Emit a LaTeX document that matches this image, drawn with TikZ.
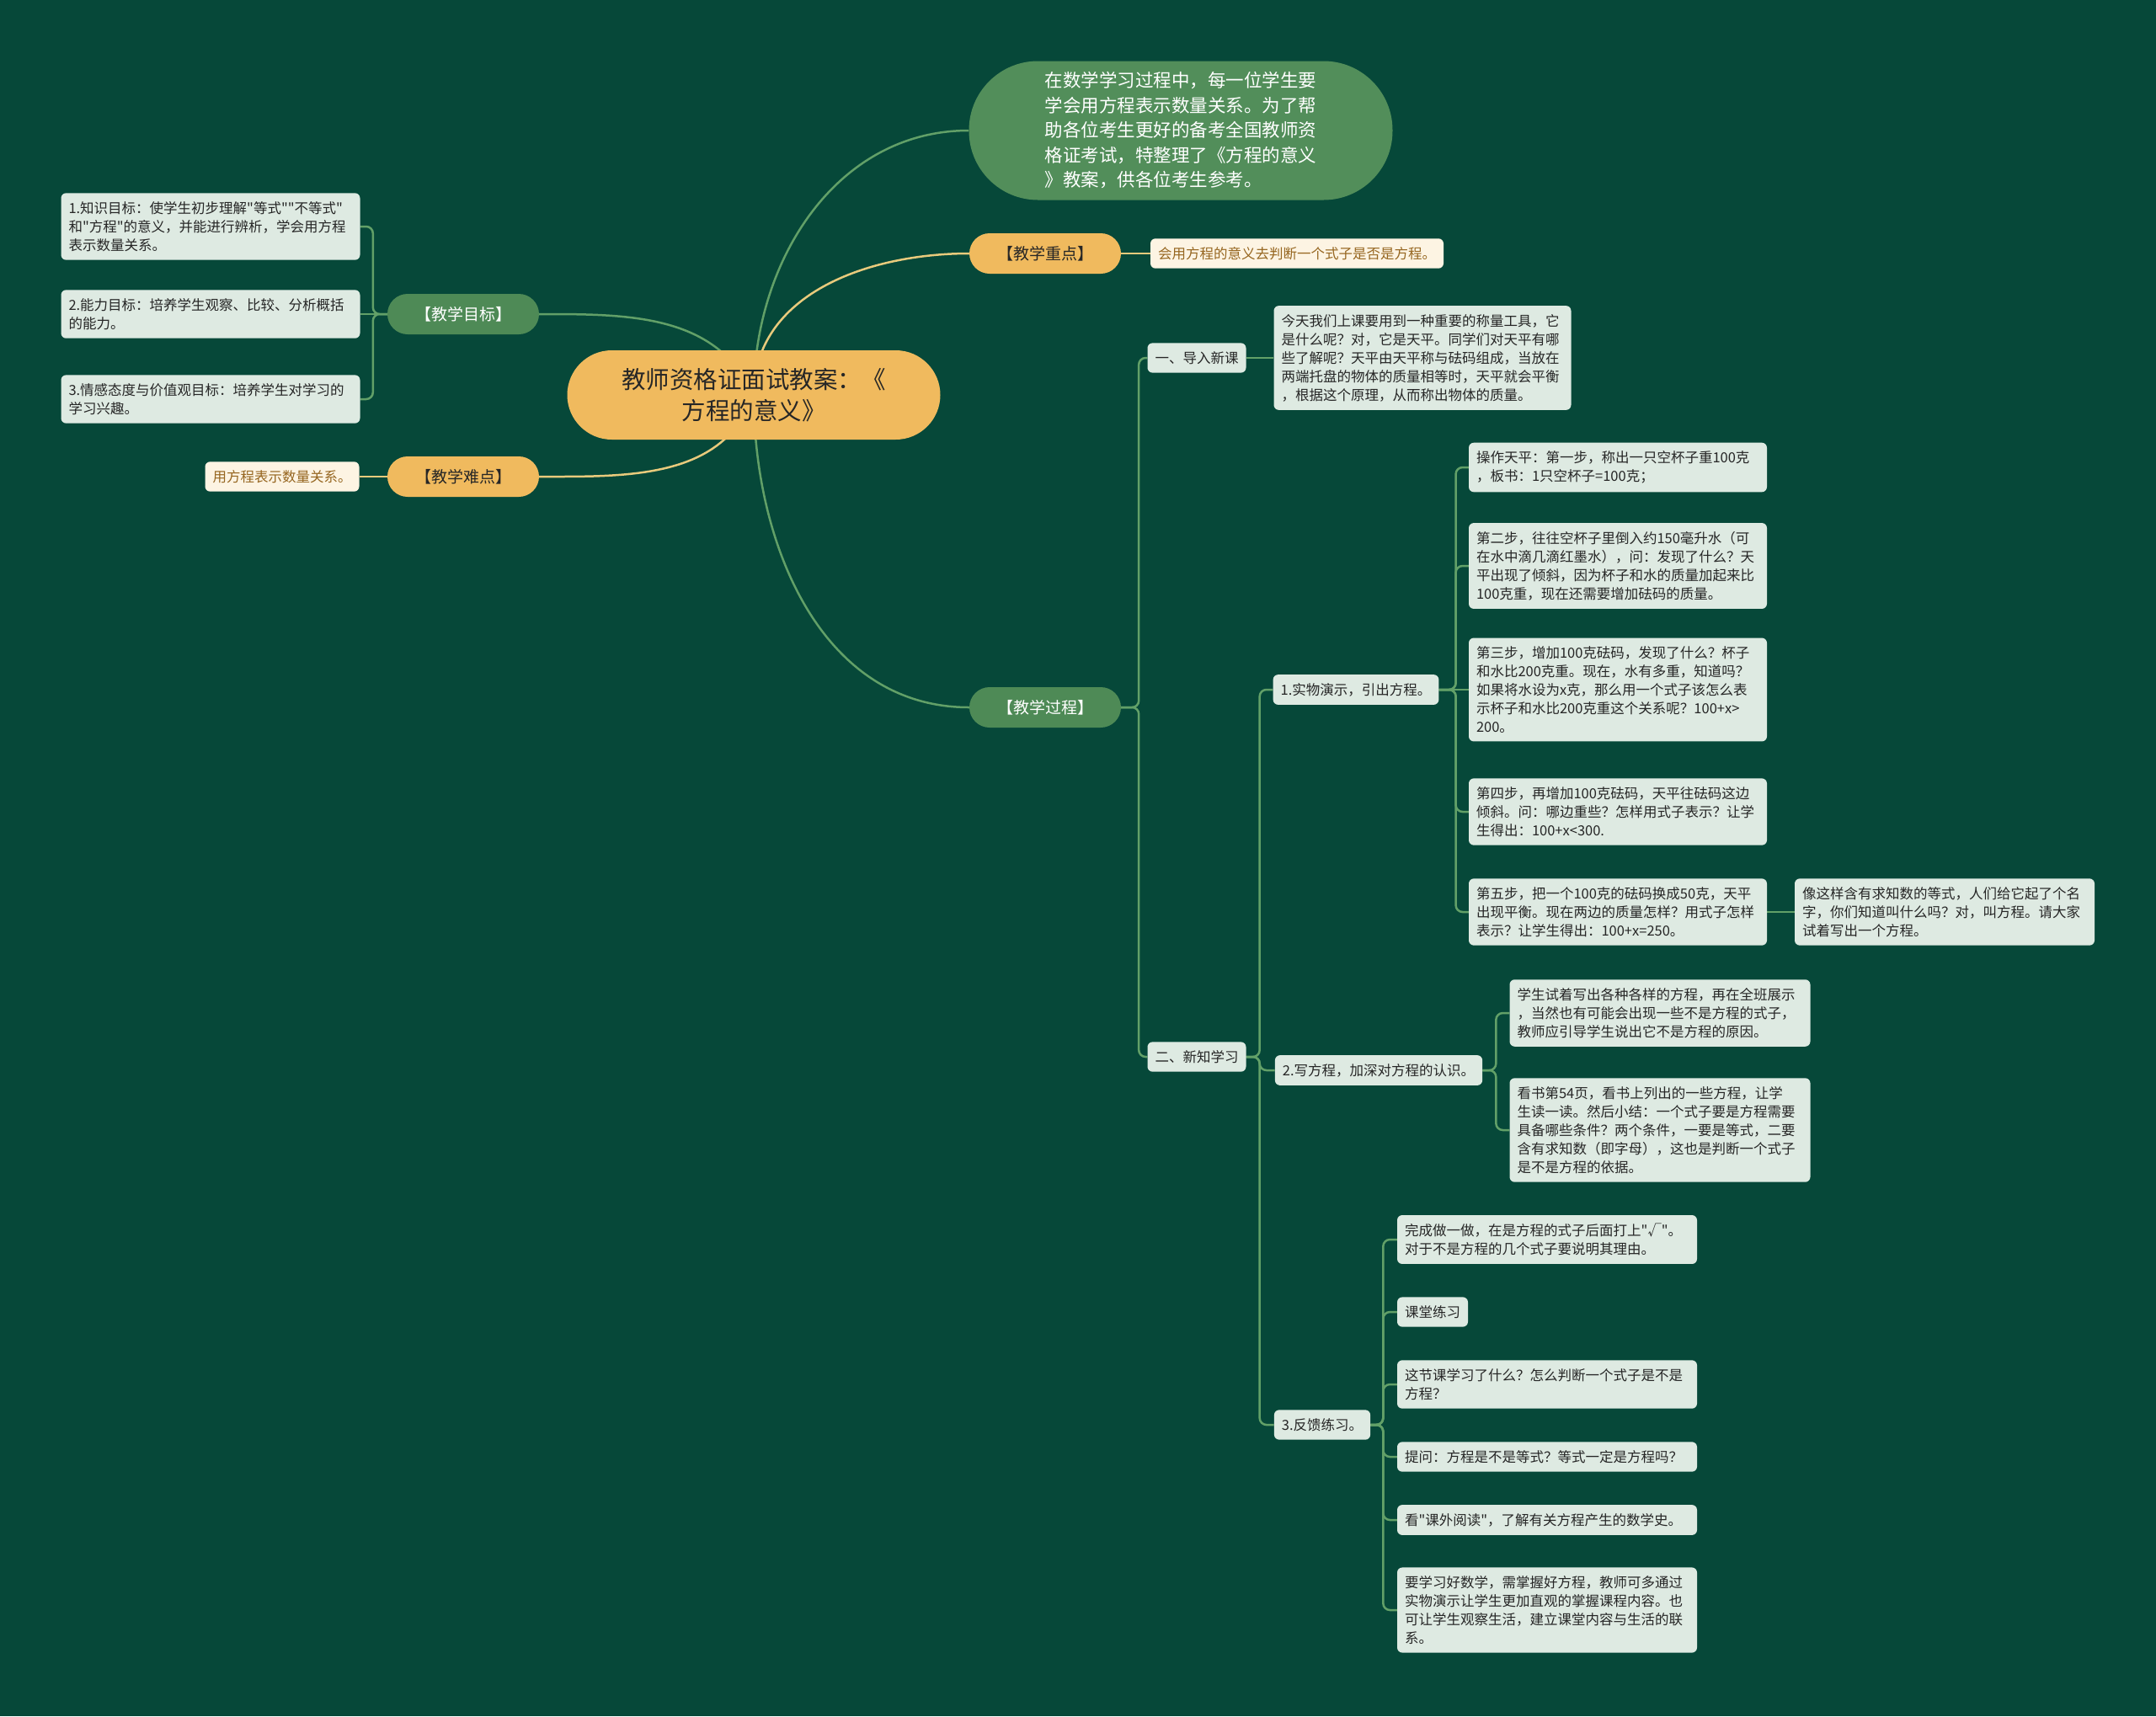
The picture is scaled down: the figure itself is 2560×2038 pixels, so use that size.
\documentclass[tikz,border=0pt]{standalone}
\usepackage{fontspec}
\setmainfont{Noto Sans CJK SC}[Ligatures=TeXOff]
\usetikzlibrary{backgrounds}
\definecolor{boardbg}{RGB}{6,72,57}
\definecolor{rootfill}{RGB}{240,186,94}
\definecolor{introfill}{RGB}{82,142,90}
\definecolor{branchfill}{RGB}{78,138,86}
\definecolor{leaffill}{RGB}{222,234,226}
\definecolor{leafink}{RGB}{38,38,38}
\definecolor{creamfill}{RGB}{253,244,227}
\definecolor{creamink}{RGB}{150,102,32}
\definecolor{greenlink}{RGB}{98,160,104}
\definecolor{yellowlink}{RGB}{232,202,124}

\begin{document}
\begin{tikzpicture}[x=1pt,y=-1pt,
  rootbox/.style={fill=rootfill,text=leafink,rounded corners=53pt,minimum width=443pt,minimum height=106pt,align=center,font=\fontsize{28.5}{37.5}\selectfont},
  introbox/.style={fill=introfill,text=white,rounded corners=82pt,minimum width=503pt,minimum height=165pt,align=left,font=\fontsize{21.5}{29.5}\selectfont},
  gtopic/.style={fill=branchfill,text=white,rounded corners=24pt,minimum width=180pt,minimum height=48pt,inner sep=0pt,font=\fontsize{19}{24}\selectfont},
  otopic/.style={gtopic,fill=rootfill,text=leafink},
  leaf/.style={fill=leaffill,text=leafink,rounded corners=6pt,inner xsep=9pt,inner ysep=10pt,align=left,font=\fontsize{16.5}{22}\selectfont},
  oleaf/.style={leaf,fill=creamfill,text=creamink},
  glink/.style={draw=greenlink,line width=2.5pt,rounded corners=8pt},
  ylink/.style={draw=yellowlink,line width=2.5pt}]
\useasboundingbox (0,0) rectangle (2560,2038);
\node[rootbox] (root) at (895,469) {教师资格证面试教案：《\\方程的意义》};
\node[introbox] (intro) at (1402,155) {在数学学习过程中，每一位学生要\\学会用方程表示数量关系。为了帮\\助各位考生更好的备考全国教师资\\格证考试，特整理了《方程的意义\\》教案，供各位考生参考。};
\node[otopic] (key) at (1241,301) {【教学重点】};
\node[oleaf] (keyleaf) at (1540,301) {会用方程的意义去判断一个式子是否是方程。};
\node[gtopic] (goal) at (550,373) {【教学目标】};
\node[leaf,text width=337pt] (goal1) at (250,269) {1.知识目标：使学生初步理解"等式""不等式"\\和"方程"的意义，并能进行辨析，学会用方程\\表示数量关系。};
\node[leaf,text width=337pt] (goal2) at (250,373) {2.能力目标：培养学生观察、比较、分析概括\\的能力。};
\node[leaf,text width=337pt] (goal3) at (250,474) {3.情感态度与价值观目标：培养学生对学习的\\学习兴趣。};
\node[otopic] (diff) at (550,566) {【教学难点】};
\node[oleaf] (diffleaf) at (335,566) {用方程表示数量关系。};
\node[gtopic] (proc) at (1241,840) {【教学过程】};
\node[leaf] (intro1) at (1421,425) {一、导入新课};
\node[leaf,text width=335pt] (intro1leaf) at (1689,425) {今天我们上课要用到一种重要的称量工具，它\\是什么呢？对，它是天平。同学们对天平有哪\\些了解呢？天平由天平称与砝码组成，当放在\\两端托盘的物体的质量相等时，天平就会平衡\\，根据这个原理，从而称出物体的质量。};
\node[leaf] (new) at (1421,1255) {二、新知学习};
\node[leaf] (demo) at (1610,819) {1.实物演示，引出方程。};
\node[leaf,text width=336pt] (s1) at (1921,555) {操作天平：第一步，称出一只空杯子重100克\\，板书：1只空杯子=100克；};
\node[leaf,text width=336pt] (s2) at (1921,672) {第二步，往往空杯子里倒入约150毫升水（可\\在水中滴几滴红墨水），问：发现了什么？天\\平出现了倾斜，因为杯子和水的质量加起来比\\100克重，现在还需要增加砝码的质量。};
\node[leaf,text width=336pt] (s3) at (1921,819) {第三步，增加100克砝码，发现了什么？杯子\\和水比200克重。现在，水有多重，知道吗？\\如果将水设为x克，那么用一个式子该怎么表\\示杯子和水比200克重这个关系呢？100+x>\\200。};
\node[leaf,text width=336pt] (s4) at (1921,964) {第四步，再增加100克砝码，天平往砝码这边\\倾斜。问：哪边重些？怎样用式子表示？让学\\生得出：100+x<300.};
\node[leaf,text width=336pt] (s5) at (1921,1083) {第五步，把一个100克的砝码换成50克，天平\\出现平衡。现在两边的质量怎样？用式子怎样\\表示？让学生得出：100+x=250。};
\node[leaf,text width=338pt] (s5leaf) at (2309,1083) {像这样含有求知数的等式，人们给它起了个名\\字，你们知道叫什么吗？对，叫方程。请大家\\试着写出一个方程。};
\node[leaf] (write) at (1637,1271) {2.写方程，加深对方程的认识。};
\node[leaf,text width=339pt] (wa) at (1971,1203) {学生试着写出各种各样的方程，再在全班展示\\，当然也有可能会出现一些不是方程的式子，\\教师应引导学生说出它不是方程的原因。};
\node[leaf,text width=339pt] (wb) at (1971,1342) {看书第54页，看书上列出的一些方程，让学\\生读一读。然后小结：一个式子要是方程需要\\具备哪些条件？两个条件，一要是等式，二要\\含有求知数（即字母），这也是判断一个式子\\是不是方程的依据。};
\node[leaf] (fb) at (1570,1692) {3.反馈练习。};
\node[leaf,text width=338pt] (f1) at (1837,1472) {完成做一做，在是方程的式子后面打上"√"。\\对于不是方程的几个式子要说明其理由。};
\node[leaf] (f2) at (1701,1558) {课堂练习};
\node[leaf,text width=338pt] (f3) at (1837,1644) {这节课学习了什么？怎么判断一个式子是不是\\方程？};
\node[leaf,text width=338pt] (f4) at (1837,1730) {提问：方程是不是等式？等式一定是方程吗？};
\node[leaf,text width=338pt] (f5) at (1837,1805) {看"课外阅读"，了解有关方程产生的数学史。};
\node[leaf,text width=338pt] (f6) at (1837,1912) {要学习好数学，需掌握好方程，教师可多通过\\实物演示让学生更加直观的掌握课程内容。也\\可让学生观察生活，建立课堂内容与生活的联\\系。};
\begin{scope}[on background layer]
\fill[boardbg] (0,0) rectangle (2560,2038);
\draw[glink] (root.center) to[out=90,in=180] (intro.west);
\draw[ylink] (root.center) to[out=90,in=180] (key.west);
\draw[glink] (root.center) to[out=-90,in=180] (proc.west);
\draw[glink] (goal.east) to[out=0,in=115] (root.center);
\draw[ylink] (diff.east) to[out=0,in=250] (root.center);
\draw[ylink] (key.east) -- (keyleaf.west);
\draw[ylink] (diff.west) -- (diffleaf.east);
\draw[glink] (goal.west) -- ++(-17,0) |- (goal1.east);
\draw[glink] (goal.west) -- (goal2.east);
\draw[glink] (goal.west) -- ++(-17,0) |- (goal3.east);
\draw[glink] (proc.east) -- ++(21,0) |- (intro1.west);
\draw[glink] (proc.east) -- ++(21,0) |- (new.west);
\draw[glink] (intro1.east) -- (intro1leaf.west);
\draw[glink] (new.east) -- ++(16,0) |- (demo.west);
\draw[glink] (new.east) -- ++(16,0) |- (write.west);
\draw[glink] (new.east) -- ++(16,0) |- (fb.west);
\draw[glink] (demo.east) -- ++(20,0) |- (s1.west);
\draw[glink] (demo.east) -- ++(20,0) |- (s2.west);
\draw[glink] (demo.east) -- (s3.west);
\draw[glink] (demo.east) -- ++(20,0) |- (s4.west);
\draw[glink] (demo.east) -- ++(20,0) |- (s5.west);
\draw[glink] (s5.east) -- (s5leaf.west);
\draw[glink] (write.east) -- ++(16,0) |- (wa.west);
\draw[glink] (write.east) -- ++(16,0) |- (wb.west);
\draw[glink] (fb.east) -- ++(15,0) |- (f1.west);
\draw[glink] (fb.east) -- ++(15,0) |- (f2.west);
\draw[glink] (fb.east) -- ++(15,0) |- (f3.west);
\draw[glink] (fb.east) -- ++(15,0) |- (f4.west);
\draw[glink] (fb.east) -- ++(15,0) |- (f5.west);
\draw[glink] (fb.east) -- ++(15,0) |- (f6.west);
\end{scope}
\end{tikzpicture}
\end{document}
